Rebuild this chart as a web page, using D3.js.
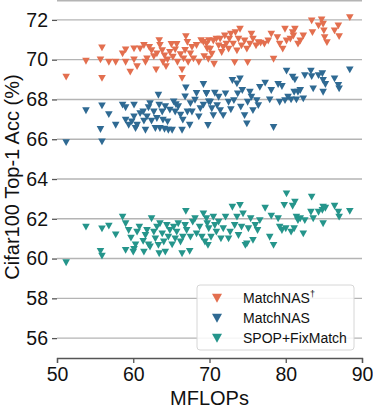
<!DOCTYPE html>
<html>
<head>
<meta charset="utf-8">
<script src="https://cdn.jsdelivr.net/npm/d3@7"></script>
<style>
  body { margin: 0; background: #fff; }
  svg { font-family: "Liberation Sans", Arial, Helvetica, sans-serif; }
</style>
</head>
<body>
<div id="chart"></div>
<script>
// MFLOPs / top-1 accuracy pairs
const matchNasDagger = [
  [51.2, 69.13], [53.8, 69.93], [55.7, 70.0], [55.9, 70.6], [55.9, 69.07], [56.8, 69.88],
  [57.7, 69.88], [58.6, 70.3], [59.0, 70.5], [59.0, 69.88], [59.6, 69.38], [60.1, 70.55],
  [60.1, 70.0], [60.5, 69.66], [60.9, 70.55], [61.4, 70.72], [61.6, 69.88], [61.8, 70.05],
  [62.1, 70.63], [62.4, 70.46], [62.7, 70.16], [63.0, 69.5], [63.1, 70.3], [63.4, 70.97],
  [63.5, 70.72], [63.8, 70.46], [63.9, 69.88], [64.1, 70.2], [64.3, 69.66], [64.5, 70.0],
  [64.8, 70.38], [65.0, 70.77], [65.2, 70.13], [65.5, 70.5], [65.7, 70.77], [65.8, 69.88],
  [66.2, 70.26], [66.4, 69.5], [66.4, 69.07], [66.6, 70.05], [66.8, 70.47], [66.9, 71.17],
  [67.1, 70.88], [67.2, 69.88], [67.5, 70.3], [67.7, 70.63], [67.9, 70.05], [68.3, 70.72],
  [68.6, 69.88], [68.9, 70.97], [69.2, 70.88], [69.3, 70.16], [69.7, 70.55], [69.9, 70.97],
  [69.6, 70.79], [69.85, 70.03], [70.1, 70.54], [70.3, 70.28], [70.5, 70.95], [70.6, 69.78],
  [70.9, 71.04], [71.2, 70.7], [71.4, 71.04], [71.6, 70.37], [71.8, 70.62], [72.0, 71.2],
  [72.2, 70.79], [72.5, 70.54], [72.6, 71.04], [72.8, 71.29], [73.1, 70.79], [73.3, 69.86],
  [73.4, 71.37], [73.6, 70.45], [73.8, 71.04], [74.0, 71.54], [74.2, 70.7], [74.6, 70.95],
  [74.9, 70.54], [75.0, 69.86], [75.3, 70.79], [75.5, 71.29], [75.7, 71.04], [76.1, 70.7],
  [76.4, 70.87], [76.7, 70.84], [77.2, 70.79], [77.7, 70.95], [78.1, 71.29], [78.4, 70.03],
  [78.9, 71.12], [79.2, 70.79], [79.6, 70.54], [79.9, 71.54], [80.1, 70.95], [80.6, 71.04],
  [80.9, 71.37], [81.0, 71.2], [81.2, 71.54], [81.6, 70.79], [81.9, 70.95], [82.3, 71.2],
  [83.4, 71.96], [83.5, 71.37], [84.3, 71.71], [84.7, 72.01], [84.9, 71.79], [85.0, 71.46],
  [85.1, 71.12], [85.4, 70.87], [86.4, 71.46], [86.9, 71.71], [87.0, 71.17], [88.4, 72.12]
]

const matchNas = [
  [51.2, 65.84], [53.8, 67.44], [55.9, 67.69], [55.7, 66.5], [55.9, 65.88], [56.8, 67.25],
  [57.7, 66.71], [58.6, 67.72], [59.0, 67.59], [59.0, 66.97], [59.4, 66.71], [59.8, 66.88],
  [60.1, 67.72], [60.1, 67.13], [60.3, 66.55], [60.5, 66.71], [60.9, 67.3], [61.3, 67.38],
  [61.4, 66.92], [61.6, 66.46], [61.8, 67.13], [62.0, 67.59], [62.2, 67.8], [62.4, 66.92],
  [62.7, 67.38], [62.9, 66.55], [63.1, 67.05], [63.3, 68.22], [63.4, 67.72], [63.5, 66.55],
  [63.8, 67.38], [63.9, 66.97], [64.1, 66.51], [64.2, 67.64], [64.5, 66.88], [64.6, 66.46],
  [64.8, 67.47], [65.1, 66.46], [65.3, 67.89], [65.5, 67.38], [65.6, 67.75], [65.9, 67.64],
  [66.2, 67.22], [66.4, 66.46], [66.5, 66.97], [66.8, 68.14], [66.9, 68.59], [67.1, 67.38],
  [67.4, 66.71], [67.5, 67.8], [67.7, 67.38], [68.1, 67.97], [68.3, 68.31], [68.6, 67.13],
  [68.8, 67.55], [69.2, 68.76], [69.2, 67.72], [69.6, 68.31], [69.9, 67.89],
  [69.6, 68.29], [69.8, 66.7], [70.1, 67.87], [70.3, 67.54], [70.5, 67.2], [70.7, 68.32],
  [71.0, 67.7], [71.2, 68.12], [71.4, 67.45], [71.8, 67.2], [72.1, 68.29], [72.5, 67.87],
  [72.8, 67.49], [73.0, 68.96], [73.2, 67.95], [73.6, 68.79], [73.7, 68.29], [74.0, 69.04],
  [74.1, 67.62], [74.3, 68.46], [74.6, 67.2], [74.9, 66.78], [75.0, 67.87], [75.3, 68.37],
  [75.5, 68.12], [75.7, 67.45], [76.2, 67.95], [76.4, 67.7], [76.6, 68.62], [77.3, 68.83],
  [77.9, 67.99], [78.1, 68.46], [78.4, 66.6], [79.0, 68.76], [79.2, 67.87], [79.5, 68.66],
  [79.9, 67.95], [80.1, 69.43], [80.3, 68.12], [80.7, 67.99], [80.9, 69.13], [81.1, 68.37],
  [81.2, 68.99], [81.4, 67.99], [81.6, 68.37], [81.9, 68.46], [82.3, 68.04], [82.5, 69.21],
  [83.3, 69.43], [83.4, 69.16], [83.6, 68.54], [84.3, 69.21], [84.8, 69.3], [84.9, 68.96],
  [84.9, 68.37], [85.2, 68.76], [86.4, 69.04], [86.9, 68.71], [87.0, 68.54], [88.4, 69.5]
]

const spopFixMatch = [
  [51.2, 59.8], [53.8, 61.59], [55.9, 61.5], [55.7, 60.37], [55.9, 60.13], [56.8, 61.64],
  [57.7, 61.2], [58.6, 62.09], [59.0, 61.76], [59.0, 60.42], [59.4, 61.42], [59.7, 61.04],
  [60.0, 60.33], [60.1, 60.47], [60.3, 60.7], [60.5, 61.34], [60.8, 61.59], [61.3, 60.87],
  [61.4, 60.33], [61.6, 61.17], [61.8, 61.42], [62.0, 60.7], [62.2, 60.59], [62.4, 62.01],
  [62.7, 61.34], [62.9, 61.0], [63.1, 61.59], [63.3, 60.67], [63.4, 60.25], [63.5, 61.76],
  [63.8, 61.25], [64.0, 60.84], [64.2, 60.33], [64.4, 61.67], [64.6, 61.09], [64.8, 61.42],
  [65.1, 60.7], [65.3, 61.59], [65.5, 61.0], [65.7, 61.34], [65.9, 61.76], [66.2, 60.84],
  [66.4, 60.25], [66.5, 61.09], [66.8, 61.67], [66.9, 62.38], [67.0, 61.42], [67.4, 60.37],
  [67.5, 61.09], [67.8, 61.84], [68.1, 62.01], [68.3, 61.25], [68.7, 61.59], [69.0, 61.09],
  [69.2, 62.26], [69.4, 60.84], [69.7, 61.76],
  [69.6, 62.01], [69.8, 60.67], [69.9, 61.51], [70.2, 61.08], [70.5, 62.09], [70.7, 61.67],
  [70.9, 61.34], [71.2, 61.84], [71.5, 61.0], [71.8, 61.51], [72.1, 62.09], [72.5, 61.0],
  [72.7, 61.34], [73.0, 62.59], [73.3, 61.67], [73.6, 62.09], [73.8, 61.17], [74.0, 62.68],
  [74.2, 61.59], [74.4, 62.26], [74.7, 60.67], [74.9, 60.75], [75.1, 61.51], [75.4, 62.01],
  [75.7, 60.92], [76.0, 61.67], [76.3, 61.42], [76.6, 61.92], [77.3, 62.54], [77.9, 61.08],
  [78.1, 62.14], [78.4, 60.67], [79.0, 62.01], [79.2, 61.59], [79.5, 61.42], [79.8, 62.68],
  [80.0, 61.51], [80.1, 63.26], [80.7, 61.34], [80.9, 62.64], [81.1, 61.51], [81.2, 62.85],
  [81.4, 62.09], [81.6, 61.92], [81.9, 62.01], [82.3, 61.25], [82.5, 61.92], [83.3, 62.34],
  [83.4, 63.1], [83.6, 62.01], [84.3, 62.34], [84.8, 62.43], [84.9, 62.59], [84.9, 61.76],
  [85.2, 62.54], [86.4, 62.64], [86.9, 62.34], [87.0, 62.09], [88.4, 62.38]
]

const xTicks = [50, 60, 70, 80, 90]
const yTicks = [56, 58, 60, 62, 64, 66, 68, 70, 72]

const series = [
  { name: 'MatchNAS', sup: '\u2020', color: '#e36f4f', values: matchNasDagger },
  { name: 'MatchNAS', sup: '', color: '#2f6a93', values: matchNas },
  { name: 'SPOP+FixMatch', sup: '', color: '#25958b', values: spopFixMatch }
]

const width = 373
const height = 410
const margin = { top: 0, right: 11, bottom: 52, left: 57 }
const innerW = width - margin.left - margin.right
const innerH = height - margin.top - margin.bottom

const svg = d3.select('#chart').append('svg')
  .attr('width', width)
  .attr('height', height)

const g = svg.append('g')
  .attr('transform', `translate(${margin.left},${margin.top})`)

const x = d3.scaleLinear().domain([50, 90]).range([0, innerW])
const y = d3.scaleLinear().domain([55, 73]).range([innerH, 0])

// grid lines
g.append('g')
  .selectAll('line')
  .data(yTicks.concat([73]))
  .join('line')
  .attr('x1', 0)
  .attr('x2', innerW)
  .attr('y1', d => Math.max(0.7, y(d)))
  .attr('y2', d => Math.max(0.7, y(d)))
  .attr('stroke', '#b4b4b4')
  .attr('stroke-width', 1.4)

// axes
const xAxis = g.append('g')
  .attr('transform', `translate(0,${innerH})`)
  .call(d3.axisBottom(x).tickValues(xTicks).tickSize(5).tickPadding(4))
xAxis.select('.domain').attr('stroke', '#555').attr('stroke-width', 1.3)
xAxis.selectAll('.tick line').attr('stroke', '#555').attr('stroke-width', 1.3)
xAxis.selectAll('.tick text')
  .attr('font-size', 19.5)
  .attr('fill', '#111')
  .attr('font-family', '"Liberation Sans", Arial, sans-serif')

const yAxis = g.append('g')
  .call(d3.axisLeft(y).tickValues(yTicks).tickSize(5).tickPadding(4))
yAxis.select('.domain').remove()
yAxis.selectAll('.tick line').attr('stroke', '#555').attr('stroke-width', 1.3)
yAxis.selectAll('.tick text')
  .attr('font-size', 19.5)
  .attr('fill', '#111')
  .attr('font-family', '"Liberation Sans", Arial, sans-serif')

// axis labels
svg.append('text')
  .attr('x', margin.left + innerW / 2)
  .attr('y', 405)
  .attr('text-anchor', 'middle')
  .attr('font-size', 20)
  .attr('fill', '#111')
  .text('MFLOPs')

svg.append('text')
  .attr('transform', `translate(19,${y(64.1)}) rotate(-90)`)
  .attr('text-anchor', 'middle')
  .attr('font-size', 20)
  .attr('fill', '#111')
  .text('Cifar100 Top-1 Acc (%)')

// downward triangle marker
const tri = s => `M${-s},${-s * 0.85}L${s},${-s * 0.85}L0,${s * 0.95}Z`

series.forEach(sr => {
  g.append('g')
    .selectAll('path')
    .data(sr.values)
    .join('path')
    .attr('d', tri(3.8))
    .attr('transform', d => `translate(${x(d[0])},${y(d[1])})`)
    .attr('fill', sr.color)
})

// legend
const legend = svg.append('g').attr('transform', 'translate(197,285)')
legend.append('rect')
  .attr('width', 157)
  .attr('height', 65)
  .attr('rx', 3)
  .attr('fill', 'rgba(255,255,255,0.85)')
  .attr('stroke', '#d6d6d6')
  .attr('stroke-width', 1)

series.forEach((sr, i) => {
  const row = legend.append('g').attr('transform', `translate(0,${13 + i * 20})`)
  row.append('path')
    .attr('d', tri(5))
    .attr('transform', 'translate(20,0)')
    .attr('fill', sr.color)
  const t = row.append('text')
    .attr('x', 46)
    .attr('y', 5)
    .attr('font-size', 14)
    .attr('fill', '#111')
    .text(sr.name)
  if (sr.sup) {
    t.append('tspan')
      .attr('dy', -6)
      .attr('font-size', 9)
      .text(sr.sup)
  }
})
</script>
</body>
</html>
